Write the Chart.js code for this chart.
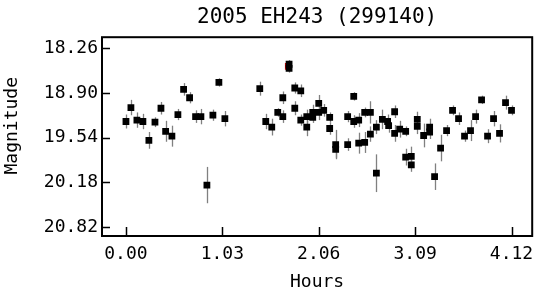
<!DOCTYPE html>
<html><head><meta charset="utf-8">
<script src="https://cdn.jsdelivr.net/npm/chart.js@4/dist/chart.umd.min.js"></script>
<style>html,body{margin:0;padding:0;background:#fff}canvas{display:block}</style>
</head><body>
<canvas id="c" width="537" height="291"></canvas>
<script>
const hours = [0.000,0.053,0.117,0.181,0.245,0.310,0.374,0.424,0.491,0.555,0.616,0.680,0.744,0.801,0.865,0.929,0.993,1.057,
  1.430,1.494,1.558,1.622,1.676,1.676,1.743,1.743,1.804,1.804,1.868,1.868,1.932,1.932,1.996,1.996,2.060,2.060,2.113,2.177,2.177,
  2.241,2.241,2.369,2.369,2.434,2.434,2.487,2.487,2.551,2.551,2.612,2.612,2.676,2.676,2.740,2.796,2.807,2.871,2.871,2.925,
  2.989,2.989,3.049,3.049,3.113,3.113,3.181,3.245,3.245,3.298,3.362,3.426,3.490,3.554,3.618,3.682,3.736,3.800,3.864,3.928,
  3.992,4.056,4.120];
const magnitude = [19.31,19.11,19.29,19.31,19.58,19.32,19.12,19.45,19.52,19.21,18.85,18.97,19.24,19.24,20.22,19.22,18.75,19.27,
  18.84,19.31,19.39,19.18,18.97,19.24,18.49,18.55,18.83,19.12,18.87,19.29,19.24,19.39,19.18,19.25,19.05,19.18,19.15,19.25,19.41,
  19.64,19.71,19.24,19.64,18.95,19.31,19.29,19.62,19.18,19.61,19.18,19.49,20.05,19.39,19.28,19.31,19.37,19.17,19.48,19.42,
  19.45,19.82,19.81,19.93,19.28,19.38,19.51,19.39,19.46,20.10,19.69,19.44,19.15,19.27,19.52,19.44,19.24,19.00,19.52,19.27,
  19.48,19.04,19.15];
const magError = [0.10,0.11,0.11,0.11,0.12,0.07,0.09,0.15,0.15,0.08,0.09,0.08,0.09,0.11,0.26,0.08,0.06,0.11,
  0.10,0.11,0.12,0.06,0.09,0.09,0.06,0.06,0.08,0.10,0.09,0.08,0.10,0.13,0.11,0.08,0.12,0.11,0.09,0.07,0.09,
  0.21,0.12,0.08,0.09,0.06,0.09,0.10,0.15,0.07,0.15,0.16,0.11,0.27,0.10,0.14,0.10,0.10,0.09,0.12,0.12,
  0.07,0.12,0.14,0.10,0.11,0.11,0.17,0.12,0.10,0.19,0.19,0.08,0.07,0.09,0.08,0.15,0.10,0.06,0.10,0.11,
  0.13,0.10,0.07];
const flaggedHours = [1.735];
const flaggedMag = [18.52];
const xTicks = [0.00, 1.03, 2.06, 3.09, 4.12];
const yTicks = [18.26, 18.90, 19.54, 20.18, 20.82];

const FONT = "'DejaVu Sans Mono', monospace";

const frameAndErrors = {
  id: 'frameAndErrors',
  beforeDatasetsDraw(chart) {
    const {ctx, scales: {x, y}} = chart;
    ctx.save();
    ctx.strokeStyle = '#808080';
    ctx.lineWidth = 1.3;
    hours.forEach((h, i) => {
      const px = Math.round(x.getPixelForValue(h)) + 0.5;
      ctx.beginPath();
      ctx.moveTo(px, y.getPixelForValue(magnitude[i] - magError[i]));
      ctx.lineTo(px, y.getPixelForValue(magnitude[i] + magError[i]));
      ctx.stroke();
    });
    ctx.restore();
  },
  afterDraw(chart) {
    const {ctx, chartArea: a, scales: {x, y}} = chart;
    ctx.save();
    ctx.strokeStyle = '#000';
    ctx.lineWidth = 2;
    ctx.strokeRect(a.left, a.top, a.right - a.left, a.bottom - a.top);
    ctx.lineWidth = 1.5;
    ctx.beginPath();
    x.ticks.forEach(t => {
      const px = Math.round(x.getPixelForValue(t.value)) + 0.5;
      ctx.moveTo(px, a.bottom); ctx.lineTo(px, a.bottom - 9);
    });
    y.ticks.forEach(t => {
      const py = Math.round(y.getPixelForValue(t.value)) + 0.5;
      ctx.moveTo(a.left, py); ctx.lineTo(a.left + 8, py);
    });
    ctx.stroke();
    ctx.restore();
  }
};

new Chart(document.getElementById('c'), {
  type: 'scatter',
  data: {
    datasets: [
      {
        label: 'Magnitude',
        data: hours.map((h, i) => ({x: h, y: magnitude[i]})),
        pointStyle: 'rect',
        pointRadius: 4.8,
        backgroundColor: '#000',
        borderWidth: 0,
        order: 0
      },
      {
        label: 'Flagged',
        data: flaggedHours.map((h, i) => ({x: h, y: flaggedMag[i]})),
        pointStyle: 'rect',
        pointRadius: 4.8,
        backgroundColor: '#e00000',
        borderWidth: 0,
        order: 1
      }
    ]
  },
  options: {
    responsive: false,
    animation: false,
    devicePixelRatio: 1,
    layout: {padding: {left: 0, right: 4, top: 0, bottom: 0}},
    plugins: {
      legend: {display: false},
      tooltip: {enabled: false},
      title: {
        display: true,
        text: '2005 EH243 (299140)',
        fullSize: false,
        color: '#000',
        font: {family: FONT, size: 21, weight: 'normal'},
        padding: {top: 5, bottom: 7}
      }
    },
    scales: {
      x: {
        type: 'linear',
        min: -0.256,
        max: 4.341,
        afterBuildTicks: s => { s.ticks = xTicks.map(v => ({value: v})); },
        afterFit: s => { s.height = 55; s.paddingLeft = 0; s.paddingRight = 0; },
        grid: {display: false, drawTicks: false},
        border: {display: false},
        ticks: {
          color: '#000',
          font: {family: FONT, size: 18},
          padding: 8,
          maxRotation: 0,
          callback: v => Number(v).toFixed(2)
        },
        title: {
          display: true,
          text: 'Hours',
          color: '#000',
          font: {family: FONT, size: 18},
          padding: {top: 0, bottom: -2}
        }
      },
      y: {
        type: 'linear',
        reverse: true,
        min: 18.103,
        max: 20.949,
        afterBuildTicks: s => { s.ticks = yTicks.map(v => ({value: v})); },
        afterFit: s => { s.width = 102; s.paddingTop = 0; s.paddingBottom = 0; },
        grid: {display: false, drawTicks: false},
        border: {display: false},
        ticks: {
          color: '#000',
          font: {family: FONT, size: 18},
          padding: 4,
          callback: v => Number(v).toFixed(2)
        },
        title: {
          display: true,
          text: '  Magnitude',
          color: '#000',
          font: {family: FONT, size: 18},
          padding: {top: 2, bottom: 0}
        }
      }
    }
  },
  plugins: [frameAndErrors]
});
</script>
</body></html>
